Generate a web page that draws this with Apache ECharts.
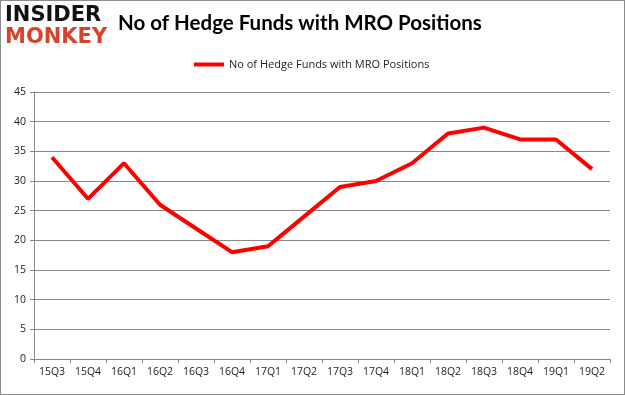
<!DOCTYPE html>
<html><head><meta charset="utf-8">
<script src="https://cdn.jsdelivr.net/npm/echarts@6/dist/echarts.min.js"></script>
<style>html,body{margin:0;padding:0;background:#fff}#c{width:625px;height:395px;box-sizing:border-box;border:1px solid #8c8c8c}</style>
</head><body><div id="c"></div>
<script>
const categories = ['15Q3','15Q4','16Q1','16Q2','16Q3','16Q4','17Q1','17Q2','17Q3','17Q4','18Q1','18Q2','18Q3','18Q4','19Q1','19Q2'];
const hedgeFunds = [34,27,33,26,22,18,19,24,29,30,33,38,39,37,37,32];
const seriesName = 'No of Hedge Funds with MRO Positions';
const titleText = 'No of Hedge Funds with MRO Positions';

const chart = echarts.init(document.getElementById('c'), null, {renderer:'canvas'});
chart.setOption({
  animation:false,
  backgroundColor:'#fff',
  title:{text:titleText,left:112,top:7,textStyle:{fontFamily:'Lato',fontWeight:'bold',fontSize:20.5,color:'#000'}},
  graphic:[
    {type:'text',left:4,top:4,style:{text:'INSIDER',fontFamily:'DejaVu Sans',fontWeight:'bold',fontSize:21,fill:'#111'}},
    {type:'text',left:4,top:26,style:{text:'MONKEY',fontFamily:'DejaVu Sans',fontWeight:'bold',fontSize:21,fill:'#d8412c'}}
  ],
  legend:{top:53,left:188,itemWidth:30,itemHeight:4,icon:'rect',itemGap:4,
    textStyle:{fontFamily:'Open Sans',fontSize:11,color:'#222'},data:[seriesName]},
  grid:{left:33,right:14,top:91,bottom:35,containLabel:false},
  xAxis:{type:'category',data:categories,boundaryGap:true,
    axisLine:{lineStyle:{color:'#888',width:1}},
    axisTick:{show:true,length:4,lineStyle:{color:'#888'}},
    axisLabel:{fontFamily:'Open Sans',fontSize:10.5,color:'#222',margin:8}},
  yAxis:{type:'value',min:0,max:45,interval:5,
    axisLine:{show:true,lineStyle:{color:'#888'}},
    axisTick:{show:true,length:4,lineStyle:{color:'#888'}},
    splitLine:{lineStyle:{color:'#888',width:1}},
    axisLabel:{fontFamily:'Open Sans',fontSize:10.5,color:'#222',margin:8}},
  series:[{name:seriesName,type:'line',data:hedgeFunds,symbol:'none',
    lineStyle:{color:'#ff0000',width:4},itemStyle:{color:'#ff0000'}}]
});
</script></body></html>
